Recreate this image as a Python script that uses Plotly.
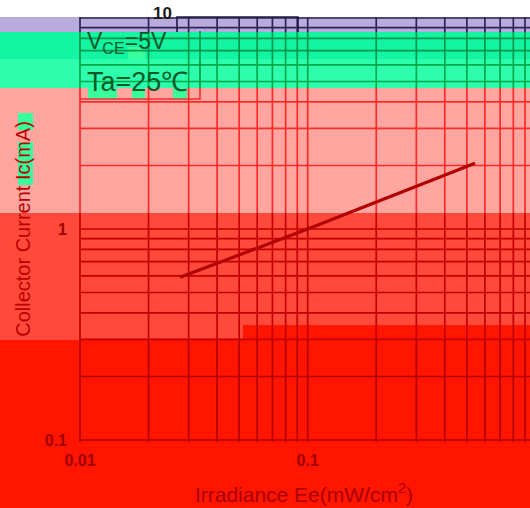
import math
import plotly.graph_objects as go

# ---------------- data ----------------
irradiance = [0.0275, 0.1, 0.543]          # mW/cm^2
collector_current = [0.59, 1.0, 2.05]      # mA

x_grid = [k * 10.0 ** e for e in (-2, -1) for k in range(1, 10)]
y_grid = [k * 10.0 ** e for e in (-1, 0) for k in range(1, 10)] + [10.0]

x_tick_vals = [0.01, 0.1, 1]
x_tick_text = ["0.01", "0.1", "1"]
y_tick_vals = [0.1, 1]
y_tick_text = ["0.1", "1"]

# ---------------- layout geometry (pixels) ----------------
W, H = 530, 508
L, R = 78, 530          # plot area left / right
T, B = 16, 442          # plot area top / bottom
X0PX, DECX = 80, 227.7  # pixel of x=0.01, pixels per decade
Y0PX, DECY = 440, 211   # pixel of y=0.1, pixels per decade

xr = [-2 - (X0PX - L) / DECX, -2 + (R - X0PX) / DECX]
yr = [-1 - (B - Y0PX) / DECY, -1 + (Y0PX - T) / DECY]


def ydata(py):
    return 10 ** (-1 + (Y0PX - py) / DECY)


def xpap(px):
    return (px - L) / (R - L)


def ypap(py):
    return (B - py) / (B - T)


# colour bands: (top px, bottom px, fill, grid colour)
bands = [
    (17, 32, "#b9abdc", "#2c2458"),
    (32, 59, "#14f5a4", "#00984a"),
    (59, 88, "#2effad", "#00a84a"),
    (88, 213, "#ffa6a1", "#ff2b2b"),
    (213, 340, "#ff4a3b", "#c40000"),
    (340, 560, "#ff1500", "#b40000"),
]

fig = go.Figure()
shapes = []
for top, bot, fill, _ in bands:
    shapes.append(dict(type="rect", xref="paper", yref="paper", layer="below",
                       x0=-0.3, x1=1.2, y0=ypap(bot), y1=ypap(top),
                       fillcolor=fill, line=dict(width=0)))
# red step on the right
shapes.append(dict(type="rect", xref="paper", yref="paper", layer="below",
                   x0=xpap(243), x1=1.2, y0=ypap(340), y1=ypap(325),
                   fillcolor="#ff1500", line=dict(width=0)))
# green highlight patches
for x0, x1, y0, y1 in [(88, 117, 88, 100), (132, 145, 88, 100), (173, 187, 88, 100),
                       (18, 33, 113, 130), (18, 33, 142, 185), (128, 145, 47, 59)]:
    shapes.append(dict(type="rect", xref="paper", yref="paper", layer="below",
                       x0=xpap(x0), x1=xpap(x1), y0=ypap(y1), y1=ypap(y0),
                       fillcolor="#38ff9c", line=dict(width=0)))

# ---------------- grid lines, coloured by band ----------------
for top, bot, _, gcol in bands:
    t = max(top, T)
    b = min(bot, B)
    if t >= b:
        continue
    ylo, yhi = ydata(b), ydata(t)
    xs, ys = [], []
    for xv in x_grid:
        xs += [xv, xv, None]
        ys += [ylo, yhi, None]
    for yv in y_grid:
        py = Y0PX - DECY * (math.log10(yv) + 1)
        if t <= py < b or (bot >= B and abs(py - b) < 3):
            xs += [x_grid[0], 1.0, None]
            ys += [yv, yv, None]
    fig.add_trace(go.Scatter(x=xs, y=ys, mode="lines", hoverinfo="skip",
                             line=dict(color=gcol, width=1.7), showlegend=False))

# ---------------- data line ----------------
fig.add_trace(go.Scatter(x=irradiance, y=collector_current, mode="lines",
                         line=dict(color="#b00000", width=3.2), showlegend=False))

# condition box
shapes.append(dict(type="path", xref="paper", yref="paper", layer="above",
                   path=f"M {xpap(200)} {ypap(31)} L {xpap(200)} {ypap(88)}",
                   line=dict(color="#00983f", width=1.6)))
shapes.append(dict(type="path", xref="paper", yref="paper", layer="above",
                   path=f"M {xpap(200)} {ypap(88)} L {xpap(200)} {ypap(99)} L {xpap(80)} {ypap(99)}",
                   line=dict(color="#ff2b2b", width=1.6)))
shapes.append(dict(type="path", xref="paper", yref="paper", layer="above",
                   path=f"M {xpap(177)} {ypap(32)} L {xpap(177)} {ypap(17)} L {xpap(298)} {ypap(17)} L {xpap(298)} {ypap(32)}",
                   line=dict(color="#1e1840", width=1.6)))

annotations = [
    dict(text="10", xref="paper", yref="paper", x=xpap(162), y=ypap(14),
         xanchor="center", yanchor="middle",
         showarrow=False, font=dict(size=17, color="#1a1a1a", weight="bold")),
    dict(text="V<sub>CE</sub>=5V", xref="paper", yref="paper", x=xpap(85), y=ypap(26),
         xanchor="left", yanchor="top", showarrow=False,
         font=dict(size=23, color="#0a5a27")),
    dict(text="Ta=25℃", xref="paper", yref="paper", x=xpap(85), y=ypap(82),
         xanchor="left", yanchor="middle", showarrow=False,
         font=dict(size=27, color="#0a5a27")),
]

fig.update_layout(
    width=W, height=H,
    margin=dict(l=L, r=W - R, t=T, b=H - B, pad=0),
    paper_bgcolor="white", plot_bgcolor="rgba(0,0,0,0)",
    font=dict(family="Liberation Sans, Arial, sans-serif", color="#a80000"),
    shapes=shapes, annotations=annotations, showlegend=False,
    xaxis=dict(type="log", range=xr, showgrid=False, zeroline=False, showline=False,
               tickvals=x_tick_vals, ticktext=x_tick_text, ticks="",
               ticklabelstandoff=7,
               tickfont=dict(size=16, color="#a00000", weight="bold"),
               title=dict(text="Irradiance Ee(mW/cm<sup>2</sup>)", standoff=19,
                          font=dict(size=21, color="#a80000"))),
    yaxis=dict(type="log", range=yr, showgrid=False, zeroline=False, showline=False,
               tickvals=y_tick_vals, ticktext=y_tick_text, ticks="",
               ticklabelstandoff=10,
               tickfont=dict(size=16, color="#a00000", weight="bold"),
               title=dict(text="Collector Current Ic(mA)", standoff=8,
                          font=dict(size=20, color="#bb0000"))),
)

fig.write_html("out.html", config={"displayModeBar": False},
               post_script="document.body.style.margin='0px';document.body.style.overflow='hidden';")
